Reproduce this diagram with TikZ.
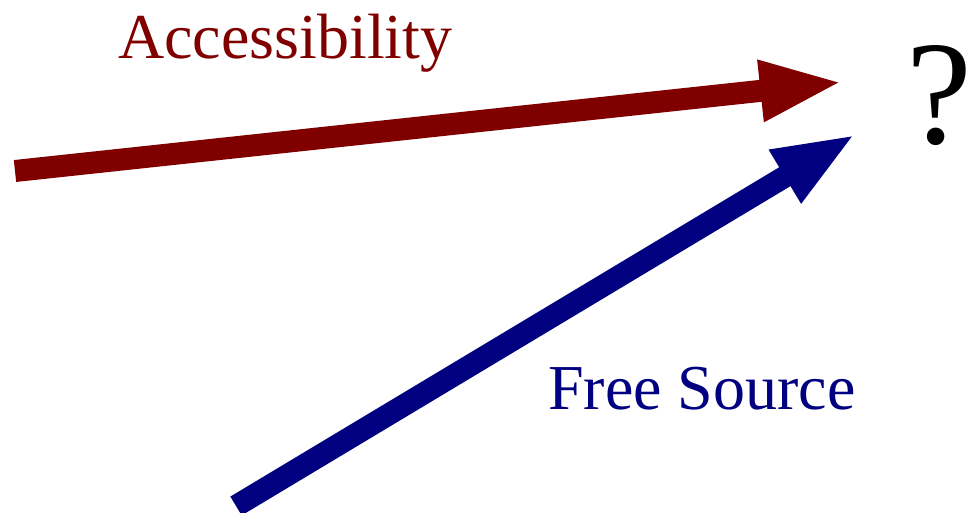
\documentclass[tikz,border=0pt]{standalone}
\usepackage{fontspec}
\setmainfont{Liberation Serif}
\usetikzlibrary{arrows.meta}
\definecolor{accred}{HTML}{800000}
\definecolor{freeblue}{HTML}{000080}
\begin{document}
\begin{tikzpicture}[x=1pt,y=-1pt,
  bigarrow/.style={line width=22pt,-{Triangle[length=83pt,width=56pt]}},
  lbl/.style={inner sep=0pt,anchor=base west,font=\fontsize{64}{70}\selectfont}]
\useasboundingbox (0,0) rectangle (969,513);
\coordinate (rtail) at (15,171);
\coordinate (rtip) at (843,82);
\coordinate (btail) at (236,506);
\coordinate (btip) at (856,134);
\draw[bigarrow,accred] (rtail) -- (rtip);
\draw[bigarrow,freeblue] (btail) -- (btip);
\node[lbl,text=accred] (acc) at (118,59) {Accessibility};
\node[lbl,text=freeblue] (free) at (548,409) {Free Source};
\node[inner sep=0pt,anchor=base west,font=\fontsize{148}{160}\selectfont] (q) at (906,144) {?};
\end{tikzpicture}
\end{document}
